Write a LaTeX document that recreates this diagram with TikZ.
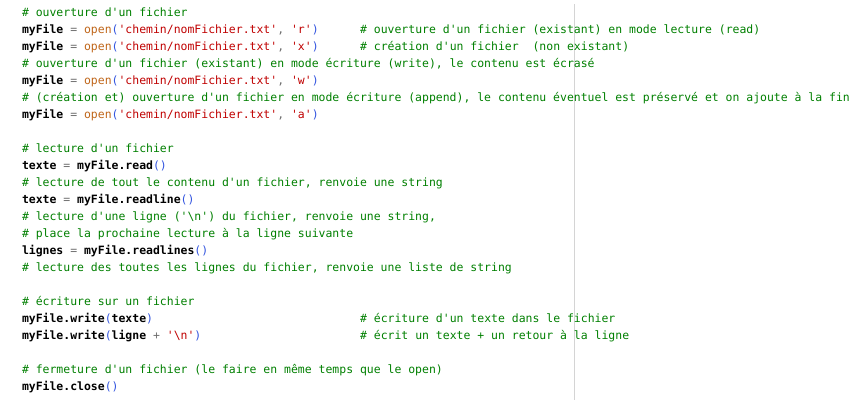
\documentclass[tikz,border=0pt]{standalone}
\usepackage{fontspec}
\setmonofont{DejaVu Sans Mono}
\definecolor{cmt}{HTML}{008000}
\definecolor{opc}{HTML}{6E6E6E}
\definecolor{fnc}{HTML}{C0661A}
\definecolor{strc}{HTML}{C00000}
\definecolor{parc}{HTML}{3355E0}
\definecolor{rulerc}{HTML}{D4D4D4}
\newcommand\codef{\ttfamily\fontsize{11.46bp}{17bp}\selectfont}
\newcommand\Cm[1]{\textcolor{cmt}{#1}}
\newcommand\Bd[1]{\textcolor{black}{\textbf{#1}}}
\newcommand\Op[1]{\textcolor{opc}{#1}}
\newcommand\Fn[1]{\textcolor{fnc}{#1}}
\newcommand\St[1]{\textcolor{strc}{#1}}
\newcommand\Pa[1]{\textcolor{parc}{#1}}
\begin{document}
\begin{tikzpicture}[x=1bp,y=-1bp,
  ln/.style={anchor=base west,inner sep=0pt,outer sep=0pt,font=\codef},
  rulerline/.style={draw=rulerc,line width=1bp}]
\useasboundingbox[fill=white] (0,0) rectangle (862,400);
\coordinate (rtop) at (574.5,4);
\coordinate (rbot) at (574.5,400);
\draw[rulerline] (rtop) -- (rbot);
\def\bx{22}
\def\cx{360.1}
\node[ln] (l0) at (\bx,16.8) {\Cm{\# ouverture d'un fichier}};
\node[ln] (l1) at (\bx,33.8) {\Bd{myFile} \Op{=} \Fn{open}\Pa{(}\St{'chemin/nomFichier.txt'}\Op{,} \St{'r'}\Pa{)}};
\node[ln] (c1) at (\cx,33.8) {\Cm{\# ouverture d'un fichier (existant) en mode lecture (read)}};
\node[ln] (l2) at (\bx,50.8) {\Bd{myFile} \Op{=} \Fn{open}\Pa{(}\St{'chemin/nomFichier.txt'}\Op{,} \St{'x'}\Pa{)}};
\node[ln] (c2) at (\cx,50.8) {\Cm{\# création d'un fichier\ \ (non existant)}};
\node[ln] (l3) at (\bx,67.8) {\Cm{\# ouverture d'un fichier (existant) en mode écriture (write), le contenu est écrasé}};
\node[ln] (l4) at (\bx,84.8) {\Bd{myFile} \Op{=} \Fn{open}\Pa{(}\St{'chemin/nomFichier.txt'}\Op{,} \St{'w'}\Pa{)}};
\node[ln] (l5) at (\bx,101.8) {\Cm{\# (création et) ouverture d'un fichier en mode écriture (append), le contenu éventuel est préservé et on ajoute à la fin}};
\node[ln] (l6) at (\bx,118.8) {\Bd{myFile} \Op{=} \Fn{open}\Pa{(}\St{'chemin/nomFichier.txt'}\Op{,} \St{'a'}\Pa{)}};
\node[ln] (l8) at (\bx,152.8) {\Cm{\# lecture d'un fichier}};
\node[ln] (l9) at (\bx,169.8) {\Bd{texte} \Op{=} \Bd{myFile.read}\Pa{()}};
\node[ln] (l10) at (\bx,186.8) {\Cm{\# lecture de tout le contenu d'un fichier, renvoie une string}};
\node[ln] (l11) at (\bx,203.8) {\Bd{texte} \Op{=} \Bd{myFile.readline}\Pa{()}};
\node[ln] (l12) at (\bx,220.8) {\Cm{\# lecture d'une ligne ('\textbackslash n') du fichier, renvoie une string,}};
\node[ln] (l13) at (\bx,237.8) {\Cm{\# place la prochaine lecture à la ligne suivante}};
\node[ln] (l14) at (\bx,254.8) {\Bd{lignes} \Op{=} \Bd{myFile.readlines}\Pa{()}};
\node[ln] (l15) at (\bx,271.8) {\Cm{\# lecture des toutes les lignes du fichier, renvoie une liste de string}};
\node[ln] (l17) at (\bx,305.8) {\Cm{\# écriture sur un fichier}};
\node[ln] (l18) at (\bx,322.8) {\Bd{myFile.write}\Pa{(}\Bd{texte}\Pa{)}};
\node[ln] (c18) at (\cx,322.8) {\Cm{\# écriture d'un texte dans le fichier}};
\node[ln] (l19) at (\bx,339.8) {\Bd{myFile.write}\Pa{(}\Bd{ligne} \Op{+} \St{'\textbackslash n'}\Pa{)}};
\node[ln] (c19) at (\cx,339.8) {\Cm{\# écrit un texte + un retour à la ligne}};
\node[ln] (l21) at (\bx,373.8) {\Cm{\# fermeture d'un fichier (le faire en même temps que le open)}};
\node[ln] (l22) at (\bx,390.8) {\Bd{myFile.close}\Pa{()}};
\end{tikzpicture}
\end{document}
